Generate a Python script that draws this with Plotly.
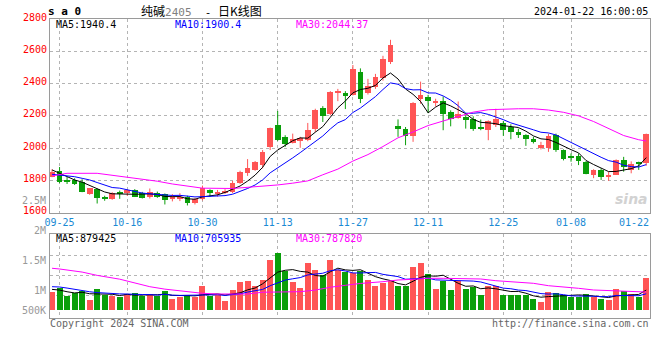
import numpy as np
import pandas as pd
import plotly.graph_objects as go

# ---------------- data ----------------
holidays = {"2023-09-29", "2023-10-02", "2023-10-03", "2023-10-04",
            "2023-10-05", "2023-10-06", "2024-01-01"}
dates = [d.strftime("%m-%d") for d in pd.bdate_range("2023-09-22", "2024-01-22")
         if d.strftime("%Y-%m-%d") not in holidays]

opens = [1823, 1858, 1803, 1803, 1793, 1713, 1746, 1692, 1686, 1731,
         1719, 1740, 1721, 1700, 1725, 1713, 1686, 1686, 1697, 1660,
         1688, 1741, 1717, 1721, 1727, 1783, 1844, 1865, 1895, 2004,
         2142, 2068, 2033, 2043, 2049, 2121, 2246, 2209, 2343, 2340,
         2332, 2474, 2340, 2377, 2433, 2535, 2135, 2119, 2074, 2302,
         2316, 2279, 2295, 2223, 2189, 2193, 2183, 2131, 2111, 2146,
         2156, 2131, 2097, 2080, 2055, 2002, 2002, 2082, 1988, 1951,
         1951, 1912, 1836, 1865, 1822, 1836, 1924, 1865, 1912, 1906]
highs = [1869, 1883, 1823, 1813, 1807, 1752, 1750, 1705, 1727, 1737,
         1746, 1746, 1729, 1750, 1731, 1719, 1715, 1721, 1705, 1692,
         1768, 1745, 1741, 1746, 1797, 1860, 1932, 1920, 1988, 2127,
         2230, 2080, 2090, 2070, 2156, 2244, 2260, 2353, 2367, 2353,
         2515, 2494, 2429, 2460, 2572, 2671, 2178, 2131, 2285, 2412,
         2330, 2306, 2320, 2234, 2289, 2203, 2197, 2177, 2172, 2244,
         2168, 2148, 2121, 2086, 2070, 2039, 2090, 2090, 1992, 1967,
         1967, 1920, 1869, 1875, 1854, 1930, 1946, 1918, 1916, 2090]
lows = [1820, 1783, 1778, 1772, 1727, 1711, 1657, 1674, 1680, 1686,
        1705, 1697, 1688, 1688, 1692, 1651, 1670, 1672, 1645, 1651,
        1676, 1700, 1700, 1715, 1721, 1778, 1828, 1860, 1875, 1988,
        2045, 2008, 2029, 2002, 2043, 2100, 2162, 2203, 2291, 2242,
        2326, 2279, 2332, 2367, 2418, 2521, 2070, 2018, 2039, 2275,
        2217, 2258, 2111, 2135, 2183, 2121, 2107, 2111, 2049, 2131,
        2076, 2055, 2063, 2014, 2029, 1992, 1977, 1977, 1924, 1916,
        1895, 1838, 1814, 1803, 1797, 1834, 1854, 1844, 1865, 1891]
closes = [1854, 1793, 1790, 1778, 1731, 1750, 1694, 1689, 1721, 1721,
          1740, 1700, 1694, 1729, 1700, 1680, 1694, 1697, 1660, 1686,
          1753, 1725, 1729, 1735, 1785, 1852, 1879, 1914, 1975, 2123,
          2049, 2026, 2057, 2063, 2113, 2234, 2199, 2349, 2355, 2322,
          2488, 2302, 2388, 2443, 2554, 2640, 2117, 2078, 2277, 2332,
          2289, 2295, 2209, 2183, 2209, 2172, 2117, 2117, 2168, 2183,
          2111, 2097, 2080, 2054, 2037, 2020, 2076, 1988, 1932, 1937,
          1920, 1840, 1863, 1820, 1830, 1926, 1885, 1903, 1906, 2086]
volumes = [760e3, 958e3, 620e3, 717e3, 831e3, 452e3, 916e3, 650e3, 620e3, 565e3,
           705e3, 747e3, 620e3, 705e3, 591e3, 831e3, 494e3, 578e3, 650e3, 578e3,
           1042e3, 620e3, 650e3, 409e3, 874e3, 1211e3, 1253e3, 1042e3, 1296e3, 2140e3,
           2405e3, 1646e3, 1182e3, 928e3, 1983e3, 1688e3, 1507e3, 2110e3, 1688e3, 1620e3,
           1578e3, 1646e3, 1296e3, 1042e3, 1156e3, 1224e3, 1013e3, 1013e3, 1815e3, 1983e3,
           1549e3, 916e3, 1224e3, 874e3, 1224e3, 916e3, 987e3, 633e3, 1042e3, 1042e3,
           663e3, 663e3, 663e3, 663e3, 494e3, 367e3, 789e3, 747e3, 663e3, 565e3,
           565e3, 705e3, 565e3, 494e3, 452e3, 903e3, 819e3, 705e3, 549e3, 1380e3]

# moving-average values before enough candles are on screen
ma5_head = [1865, 1844, 1823, 1803]
ma10_head = [1838, 1834, 1828, 1823, 1813, 1803, 1787, 1772, 1756]
vol_ma5_head = [900e3, 870e3, 800e3, 750e3]
vol_ma10_head = [1013e3, 1000e3, 955e3, 900e3, 830e3, 800e3, 765e3, 740e3, 715e3]

# MA30 (candle index, value)
ma30_idx = [0, 2, 6, 8, 10, 12, 14, 16, 18, 20, 24, 28, 30, 32, 34, 36, 38, 40, 42,
            44, 46, 48, 50, 52, 54, 56, 58, 60, 62, 64, 66, 68, 70, 72, 74, 76, 78, 79]
ma30_val = [1828, 1844, 1844, 1832, 1820, 1805, 1795, 1778, 1766, 1752, 1750, 1762,
            1772, 1783, 1797, 1835, 1870, 1920, 1960, 2010, 2064, 2100, 2140, 2168,
            2196, 2223, 2238, 2242, 2244, 2244, 2236, 2222, 2200, 2165, 2120, 2078,
            2052, 2044]
vol_ma30_idx = [0, 1, 4, 6, 9, 11, 13, 15, 18, 20, 22, 24, 26, 28, 31, 33, 35, 37, 39,
                41, 44, 46, 48, 50, 52, 55, 57, 59, 61, 64, 66, 68, 70, 72, 75, 77, 79]
vol_ma30_val = [1790e3, 1760e3, 1630e3, 1490e3, 1330e3, 1180e3, 1013e3, 910e3, 790e3,
                734e3, 705e3, 692e3, 705e3, 780e3, 802e3, 802e3, 870e3, 990e3, 1072e3,
                1150e3, 1224e3, 1296e3, 1325e3, 1367e3, 1367e3, 1367e3, 1338e3, 1266e3,
                1224e3, 1156e3, 1055e3, 1013e3, 945e3, 874e3, 844e3, 802e3, 788e3]

tick_dates = ["09-25", "10-16", "10-30", "11-13", "11-27", "12-11", "12-25", "01-08"]
last_date = "01-22"
price_ticks = [1600, 1800, 2000, 2200, 2400, 2600, 2800]
vol_tick_labels = ["2.5M", "2M", "1.5M", "1M", "500K"]

legend_price = ["MA5:1940.4", "MA10:1900.4", "MA30:2044.37"]
legend_vol = ["MA5:879425", "MA10:705935", "MA30:787820"]

# ---------------- helpers ----------------
def moving_avg(series, n, head):
    out = list(head)
    for i in range(len(head), len(series)):
        out.append(float(np.mean(series[i - n + 1:i + 1])))
    return out

n = len(closes)
x = list(range(n))
ma5 = moving_avg(closes, 5, ma5_head)
ma10 = moving_avg(closes, 10, ma10_head)
vma5 = moving_avg(volumes, 5, vol_ma5_head)
vma10 = moving_avg(volumes, 10, vol_ma10_head)

RED = "#ff5555"
GREEN = "#0a9f0a"
MONO = "DejaVu Sans Mono"
GRID = "#b4b4b4"
BORDER = "#9a9a9a"

fig = go.Figure()

for up, col in ((True, RED), (False, GREEN)):
    idx = [i for i in x if (closes[i] >= opens[i]) == up]
    wx, wy = [], []
    for i in idx:
        wx += [i, i, None]
        wy += [lows[i], highs[i], None]
    fig.add_trace(go.Scatter(x=wx, y=wy, mode="lines", line=dict(color=col, width=1),
                             xaxis="x", yaxis="y", hoverinfo="skip"))
    fig.add_trace(go.Bar(x=idx, base=[min(opens[i], closes[i]) for i in idx],
                         y=[max(abs(closes[i] - opens[i]), 5) for i in idx],
                         width=0.76, marker=dict(color=col, line=dict(width=0)),
                         xaxis="x", yaxis="y", hoverinfo="skip"))
    fig.add_trace(go.Bar(x=idx, y=[volumes[i] for i in idx], width=0.8,
                         marker=dict(color=col, line=dict(width=0)),
                         xaxis="x2", yaxis="y2", hoverinfo="skip"))

for xs, ys, col, ax, ay in ((x, ma5, "#000000", "x", "y"),
                            (x, ma10, "#0000ff", "x", "y"),
                            (ma30_idx, ma30_val, "#ff00ff", "x", "y"),
                            (x, vma5, "#000000", "x2", "y2"),
                            (x, vma10, "#0000ff", "x2", "y2"),
                            (vol_ma30_idx, vol_ma30_val, "#ff00ff", "x2", "y2")):
    fig.add_trace(go.Scatter(x=xs, y=ys, mode="lines", line=dict(color=col, width=1),
                             xaxis=ax, yaxis=ay, hoverinfo="skip"))

# ---------------- layout ----------------
W, H = 660, 360
ML, MR, MT, MB = 50, 10, 19, 42
PH = H - MT - MB

def py(pix):
    return (H - MB - pix) / PH

def px(pix):
    return (pix - ML) / (W - ML - MR)

vol_lo, vol_hi = -0.308e6, 3.224e6
vol_grid = [vol_lo + f * (vol_hi - vol_lo) for f in (0.271, 0.510, 0.749)]
tick_idx = [dates.index(d) for d in tick_dates]

axis_common = dict(showline=True, mirror=True, linecolor=BORDER, linewidth=1,
                   showgrid=True, gridcolor=GRID, griddash="dot", gridwidth=1,
                   zeroline=False, ticks="", fixedrange=True)

fig.update_layout(
    width=W, height=H, margin=dict(l=ML, r=MR, t=MT, b=MB),
    paper_bgcolor="white", plot_bgcolor="white", showlegend=False,
    barmode="overlay", bargap=0,
    font=dict(family=MONO, size=10, color="#000"),
    xaxis=dict(domain=[0, 1], anchor="y", range=[-0.27, n - 0.5],
               tickmode="array", tickvals=tick_idx, ticktext=tick_dates,
               tickfont=dict(family=MONO, size=10, color="#1a8ad4"), **axis_common),
    yaxis=dict(domain=[py(212.7), 1], anchor="x", range=[1600, 2800],
               tickmode="array", tickvals=price_ticks, ticktext=[str(v) for v in price_ticks],
               tickfont=dict(family=MONO, size=10, color="#ff0000"),
               ticklabelshift=-2, **axis_common),
    xaxis2=dict(domain=[0, 1], anchor="y2", matches="x", showticklabels=False,
                tickmode="array", tickvals=tick_idx, **axis_common),
    yaxis2=dict(domain=[0, py(234.3)], anchor="x2", range=[vol_lo, vol_hi],
                tickmode="array", tickvals=vol_grid, showticklabels=False, **axis_common),
)

ann = []
def text(t, xp, yp, anchor="left", size=10, color="#000", family=MONO, height=None):
    a = dict(text=t, x=px(xp), y=py(yp), xref="paper", yref="paper",
             xanchor=anchor, yanchor="middle", showarrow=False, borderpad=0,
             font=dict(family=family, size=size, color=color))
    if height:
        a["height"] = height
    ann.append(a)

text("<b>s a 0</b>", 47, 11.5, size=11)
text("纯碱<span style='color:#808080;font-family:DejaVu Sans Mono;font-size:11px'>2405  </span>"
     "<span style='font-family:DejaVu Sans Mono;font-size:11px'>- </span>日K线图",
     140, 10.5, anchor="left", size=12, family="Noto Sans CJK SC", height=14)
text("2024-01-22 16:00:05", 649, 11.5, anchor="right")
for t, xp, c in zip(legend_price, (55, 174, 295), ("#000000", "#0000ff", "#ff00ff")):
    text(t, xp, 24.3, color=c)
for t, xp, c in zip(legend_vol, (55, 174, 295), ("#000000", "#0000ff", "#ff00ff")):
    text(t, xp, 238, color=c)
for t, yp in zip(vol_tick_labels, (200.7, 230.7, 260.7, 290.7, 310.7)):
    text(t, 46.5, yp, anchor="right", color="#999999", size=10)
text(last_date, 650, 222, anchor="right", color="#1a8ad4")
text("Copyright 2024 SINA.COM", 49, 323.5, color="#666666", size=10)
text("http://finance.sina.com.cn", 650, 323.5, anchor="right", color="#666666", size=10)
text("<i><b>sina</b></i>", 631, 199, anchor="center", color="#d2d2d2", size=14,
     family="DejaVu Sans")
fig.update_layout(annotations=ann)

fig.write_html("out.html", include_plotlyjs=True, config={"displayModeBar": False})

# remove the default 8px page margin so the figure sits at the window's corner
with open("out.html", encoding="utf-8") as f:
    html = f.read()
html = html.replace("<body>", '<body style="margin:0;padding:0;overflow:hidden">', 1)
with open("out.html", "w", encoding="utf-8") as f:
    f.write(html)
